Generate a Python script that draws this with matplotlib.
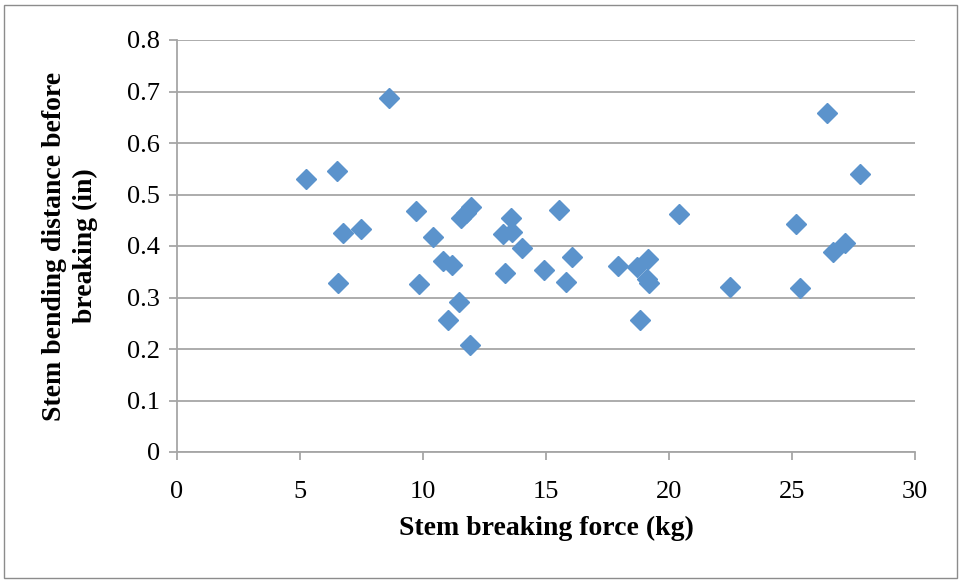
import matplotlib.pyplot as plt
from matplotlib.patches import Rectangle

force = [8.63, 5.23, 6.52, 6.76, 7.48, 6.56, 9.73, 10.42, 9.85, 10.83,
         11.18, 11.48, 11.03, 11.90, 11.54, 11.75, 11.95, 13.56, 13.27, 13.63,
         14.02, 13.35, 15.52, 16.07, 14.92, 15.81, 17.94, 18.69, 19.16, 19.10,
         19.19, 18.82, 20.41, 22.48, 26.44, 27.76, 25.16, 25.33, 26.68, 27.15]
distance = [0.687, 0.530, 0.546, 0.425, 0.433, 0.329, 0.468, 0.418, 0.327, 0.371,
            0.363, 0.291, 0.257, 0.207, 0.454, 0.465, 0.476, 0.454, 0.423, 0.427,
            0.397, 0.347, 0.470, 0.378, 0.353, 0.331, 0.361, 0.360, 0.374, 0.335,
            0.329, 0.257, 0.462, 0.320, 0.658, 0.539, 0.443, 0.318, 0.388, 0.405]

x_ticks = [0, 5, 10, 15, 20, 25, 30]
y_ticks = [0, 0.1, 0.2, 0.3, 0.4, 0.5, 0.6, 0.7, 0.8]

W, H = 963, 584
fig = plt.figure(figsize=(W / 100, H / 100), dpi=100)
ax = fig.add_axes([177 / W, 1 - 452 / H, (915 - 177) / W, (452 - 40) / H])

# outer chart border
fig.patches.append(Rectangle((4 / W, 6 / H), (957 - 4) / W, (579 - 6) / H,
                             transform=fig.transFigure, fill=False,
                             edgecolor="#8c8c8c", linewidth=1))

ax.plot(force, distance, linestyle="none", marker="D", markersize=10.5,
        color="#5b93cc", markeredgecolor="#5b93cc", zorder=3, clip_on=False)

ax.set_xlim(0, 30)
ax.set_ylim(0, 0.8)
ax.set_xticks(x_ticks)
ax.set_yticks(y_ticks)
ax.set_xticklabels([str(t) for t in x_ticks])
ax.set_yticklabels(["0"] + ["%.1f" % t for t in y_ticks[1:]])

ax.grid(axis="y", color="#a6a6a6", linewidth=1.3)
ax.set_axisbelow(True)
for s in ["top", "right"]:
    ax.spines[s].set_visible(False)
for s in ["left", "bottom"]:
    ax.spines[s].set_color("#a6a6a6")
    ax.spines[s].set_linewidth(1.3)
ax.tick_params(axis="both", color="#a6a6a6", width=1.3, length=6,
               direction="out", labelsize=19, pad=6)
ax.tick_params(axis="x", pad=15)
for lab in ax.get_xticklabels() + ax.get_yticklabels():
    lab.set_family("Liberation Serif")

ax.set_xlabel("Stem breaking force (kg)", family="Liberation Serif",
              fontweight="bold", fontsize=20, labelpad=9)
ax.set_ylabel("Stem bending distance before\nbreaking (in)", family="Liberation Serif",
              fontweight="bold", fontsize=20, labelpad=21, linespacing=1.3)

fig.savefig("out.png", dpi=100)
